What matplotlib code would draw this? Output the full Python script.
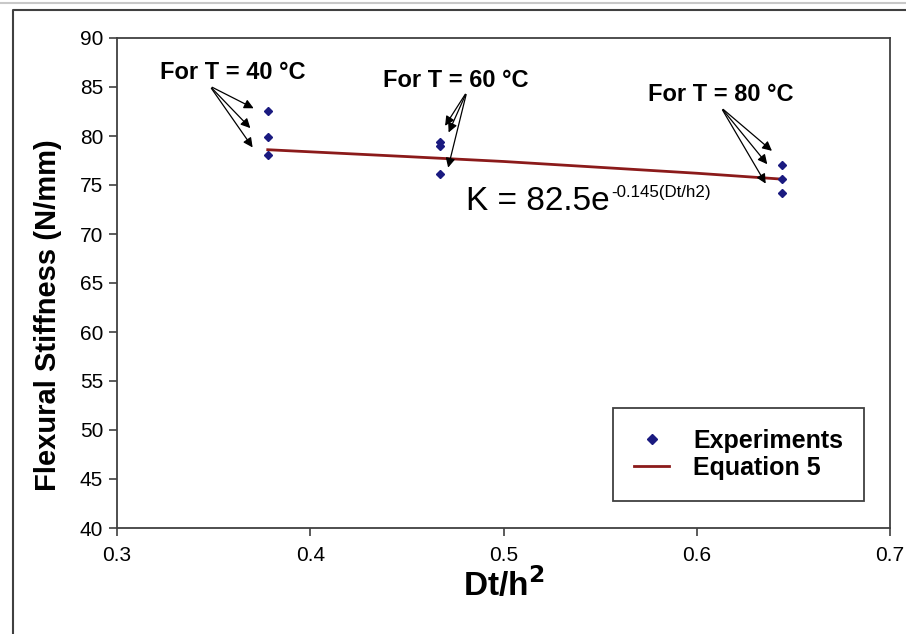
import matplotlib.pyplot as plt
from matplotlib.lines import Line2D

plt.rcParams['font.family'] = ['Liberation Sans', 'DejaVu Sans']

# Experimental points (Dt/h^2, stiffness)
exp_x = [0.378, 0.378, 0.378, 0.467, 0.467, 0.467, 0.644, 0.644, 0.644]
exp_k = [82.5, 79.9, 78.1, 79.4, 79.0, 76.1, 77.0, 75.6, 74.2]

# Equation 5 curve
eq_x = [0.378, 0.45, 0.5, 0.55, 0.60, 0.644]
eq_k = [78.6, 77.9, 77.4, 76.8, 76.2, 75.6]

x_ticks = [0.3, 0.4, 0.5, 0.6, 0.7]
y_ticks = [40, 45, 50, 55, 60, 65, 70, 75, 80, 85, 90]

# label text, text position, arrow tips, arrow start
annotations = [
    ("For T = 40 °C", (0.3223, 86.5), [(0.372, 82.7), (0.370, 80.6), (0.371, 78.6)], (0.348, 85.1)),
    ("For T = 60 °C", (0.4377, 85.7), [(0.469, 80.8), (0.471, 80.1), (0.471, 76.5)], (0.481, 84.5)),
    ("For T = 80 °C", (0.5748, 84.2), [(0.640, 78.3), (0.6374, 76.9), (0.6364, 74.9)], (0.6126, 82.9)),
]

fig = plt.figure(figsize=(9.06, 6.34), dpi=100)

# outer frame lines like the pasted screenshot
fig.add_artist(Line2D([0, 1], [1 - 3 / 634, 1 - 3 / 634], transform=fig.transFigure,
                      color='#c8c8c8', lw=1.5))
fig.add_artist(Line2D([13 / 906, 13 / 906, 1], [0, 1 - 10 / 634, 1 - 10 / 634],
                      transform=fig.transFigure, color='#404040', lw=1.5))

ax = fig.add_axes([117 / 906, 106 / 634, 773 / 906, 490 / 634])

ax.plot(eq_x, eq_k, color='#8b1a1a', lw=2, label='Equation 5', zorder=2)
ax.plot(exp_x, exp_k, linestyle='none', marker='D', markersize=4,
        color='#1a1a80', label='Experiments', zorder=3)

ax.set_xlim(0.3, 0.7)
ax.set_ylim(40, 90)
ax.set_xticks(x_ticks)
ax.set_yticks(y_ticks)
ax.set_xticklabels([f"{v:.1f}" for v in x_ticks])
ax.tick_params(direction='out', length=6, width=1.2, labelsize=15, color='#404040', pad=4)
ax.tick_params(axis='x', pad=7)
for s in ax.spines.values():
    s.set_color('#404040')
    s.set_linewidth(1.3)

ax.set_xlabel('Dt/h$\\mathbf{^2}$', fontsize=24, fontweight='bold')
ax.xaxis.set_label_coords(0.5, -0.08)
ax.set_ylabel('Flexural Stiffness (N/mm)', fontsize=21, fontweight='bold')
ax.yaxis.set_label_coords(-0.071, 0.435)

for text, pos, tips, start in annotations:
    ax.text(pos[0], pos[1], text, fontsize=17, fontweight='bold', va='center', ha='left')
    for tip in tips:
        ax.annotate('', xy=tip, xytext=start,
                    arrowprops=dict(arrowstyle='-|>', color='black', lw=0.9, mutation_scale=14))

eq = ax.text(0.4806, 73.3, 'K = 82.5e', fontsize=24, va='center', ha='left')
ax.annotate('-0.145(Dt/h2)', xy=(1, 1), xycoords=eq, xytext=(1, 1),
            textcoords='offset points', fontsize=12.2, va='top', ha='left')

h, l = ax.get_legend_handles_labels()
leg = ax.legend(h[::-1], l[::-1], loc='upper left', bbox_to_anchor=(0.6417, 0.245),
                borderaxespad=0, fancybox=False, edgecolor='#404040', framealpha=1,
                prop={'size': 18, 'weight': 'bold'}, handlelength=1.4, borderpad=0.85,
                labelspacing=0.1, markerscale=1.2, handletextpad=0.95)
leg.get_frame().set_linewidth(1.3)

fig.savefig('out.png', dpi=100)
